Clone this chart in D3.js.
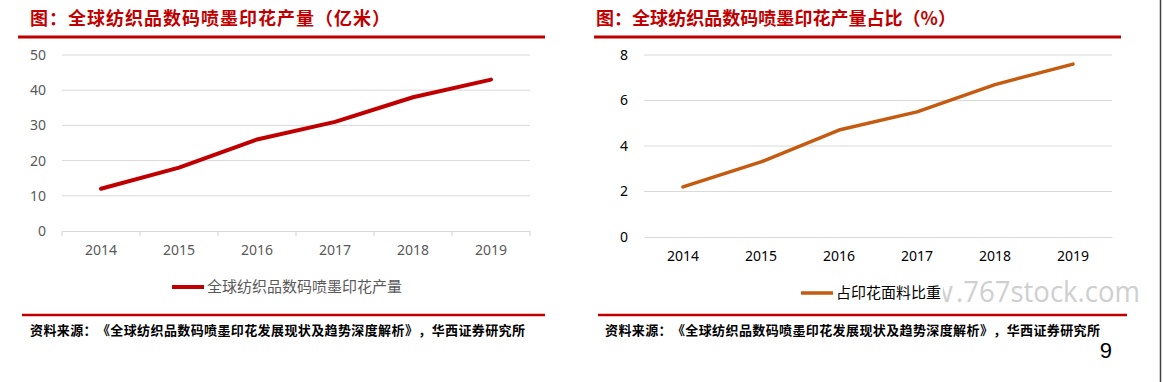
<!DOCTYPE html>
<html>
<head>
<meta charset="utf-8">
<script src="https://cdn.jsdelivr.net/npm/d3@7"></script>
<style>
  html, body { margin: 0; padding: 0; background: #fff; }
  svg { display: block; }
  .wide { text-spacing-trim: space-all; }
</style>
</head>
<body>
<svg id="page" width="1163" height="382"></svg>
<script>
// data
const years = ['2014', '2015', '2016', '2017', '2018', '2019'];
const outputValues = [12, 18, 26, 31, 38, 43];        // 亿米
const shareValues = [2.2, 3.3, 4.7, 5.5, 6.7, 7.6];   // %
const outputTicks = [0, 10, 20, 30, 40, 50];
const shareTicks = [0, 2, 4, 6, 8];

const leftTitle = '图：全球纺织品数码喷墨印花产量（亿米）';
const rightTitle = '图：全球纺织品数码喷墨印花产量占比（%）';
const leftLegend = '全球纺织品数码喷墨印花产量';
const rightLegend = '占印花面料比重';
const sourceText = '资料来源：《全球纺织品数码喷墨印花发展现状及趋势深度解析》，华西证券研究所';

const cjk = '"Noto Sans CJK SC", "Noto Sans", sans-serif';
const red = '#c00000';

const svg = d3.select('#page');

// watermark first so the legend box sits on top of it
const wm = svg.append('g')
  .attr('font-family', '"Open Sans", sans-serif')
  .attr('font-size', 30)
  .attr('fill', '#cfcfcf');
wm.append('text')
  .attr('x', 953).attr('y', 302)
  .attr('text-anchor', 'end')
  .text('www');
wm.append('text')
  .attr('x', 956).attr('y', 302)
  .attr('textLength', 184)
  .attr('lengthAdjust', 'spacingAndGlyphs')
  .text('.767stock.com');

function drawPanel(opt) {
  const g = svg.append('g');

  // title + rule
  g.append('text')
    .attr('class', 'wide')
    .attr('x', opt.titleX).attr('y', 25)
    .attr('font-family', cjk).attr('font-weight', 'bold')
    .attr('font-size', 18).attr('fill', red)
    .attr('textLength', opt.titleLen)
    .attr('lengthAdjust', 'spacing')
    .text(opt.title);
  g.append('line')
    .attr('x1', opt.ruleX[0]).attr('x2', opt.ruleX[1])
    .attr('y1', 37).attr('y2', 37)
    .attr('stroke', red).attr('stroke-width', 3);

  const x = d3.scaleBand().domain(years).range(opt.xRange);
  const y = d3.scaleLinear().domain([0, opt.max]).range(opt.yRange);

  // gridlines
  g.append('g')
    .selectAll('line')
    .data(opt.ticks.filter(d => d > 0))
    .join('line')
    .attr('x1', opt.xRange[0]).attr('x2', opt.xRange[1])
    .attr('y1', d => y(d)).attr('y2', d => y(d))
    .attr('stroke', '#d9d9d9').attr('stroke-width', 1);

  // y axis labels
  const yAxis = g.append('g')
    .attr('transform', `translate(${opt.xRange[0] - 16},0)`)
    .call(d3.axisLeft(y).tickValues(opt.ticks).tickSize(0).tickPadding(0));
  yAxis.select('.domain').remove();
  yAxis.selectAll('text')
    .attr('font-family', '"Noto Sans", sans-serif')
    .attr('font-size', 14)
    .attr('fill', opt.axisColor);

  // x axis
  const xAxis = g.append('g')
    .attr('transform', `translate(0,${opt.yRange[0]})`)
    .call(d3.axisBottom(x).tickSize(0).tickPadding(14));
  xAxis.select('.domain').attr('stroke', '#d9d9d9').attr('stroke-width', 1.2);
  xAxis.selectAll('text')
    .attr('font-family', '"Noto Sans", sans-serif')
    .attr('font-size', 14)
    .attr('fill', opt.axisColor);
  if (opt.tickMarks) {
    const edges = years.map(d => x(d)).concat([opt.xRange[1]]);
    xAxis.selectAll('.edge')
      .data(edges)
      .join('line')
      .attr('class', 'edge')
      .attr('x1', d => d).attr('x2', d => d)
      .attr('y1', 0).attr('y2', 5)
      .attr('stroke', '#d9d9d9').attr('stroke-width', 1.2);
  }

  // series line
  const line = d3.line()
    .x((d, i) => x(years[i]) + x.bandwidth() / 2)
    .y(d => y(d));
  g.append('path')
    .datum(opt.values)
    .attr('d', line)
    .attr('fill', 'none')
    .attr('stroke', opt.color)
    .attr('stroke-width', opt.lineWidth)
    .attr('stroke-linecap', 'round')
    .attr('stroke-linejoin', 'round');

  // legend
  const lg = g.append('g').attr('transform', `translate(${opt.legendX},${opt.legendY})`);
  lg.append('rect')
    .attr('x', -4).attr('y', -12)
    .attr('width', opt.legendBox).attr('height', 24)
    .attr('fill', '#fff');
  lg.append('line')
    .attr('x1', 0).attr('x2', 32).attr('y1', 0).attr('y2', 0)
    .attr('stroke', opt.color).attr('stroke-width', opt.lineWidth);
  lg.append('text')
    .attr('x', 35).attr('y', 5)
    .attr('font-family', cjk).attr('font-size', 15)
    .attr('fill', opt.legendColor)
    .text(opt.legend);

  // source rule + text
  g.append('line')
    .attr('x1', opt.srcRule[0]).attr('x2', opt.srcRule[1])
    .attr('y1', 315).attr('y2', 315)
    .attr('stroke', red).attr('stroke-width', 2.5);
  g.append('text')
    .attr('class', 'wide')
    .attr('x', opt.srcX).attr('y', 335)
    .attr('font-family', cjk).attr('font-weight', 'bold')
    .attr('font-size', 13).attr('fill', '#000')
    .attr('textLength', opt.srcLen)
    .attr('lengthAdjust', 'spacing')
    .text(sourceText);
}

drawPanel({
  title: leftTitle, titleX: 30, titleLen: 360, ruleX: [18, 545],
  xRange: [62, 530], yRange: [231, 55], max: 50, ticks: outputTicks,
  values: outputValues, color: '#c00000', lineWidth: 4,
  axisColor: '#595959', tickMarks: true,
  legend: leftLegend, legendX: 172, legendY: 287, legendBox: 238, legendColor: '#595959',
  srcRule: [22, 545], srcX: 30, srcLen: 495
});

drawPanel({
  title: rightTitle, titleX: 596, titleLen: 360, ruleX: [594, 1121],
  xRange: [644, 1112], yRange: [237, 55], max: 8, ticks: shareTicks,
  values: shareValues, color: '#c55a11', lineWidth: 3.5,
  axisColor: '#000', tickMarks: false,
  legend: rightLegend, legendX: 801, legendY: 293, legendBox: 146, legendColor: '#000',
  srcRule: [598, 1127], srcX: 605, srcLen: 495
});

// page number and right border
svg.append('text')
  .attr('x', 1112).attr('y', 358)
  .attr('text-anchor', 'end')
  .attr('font-family', '"Liberation Sans", sans-serif')
  .attr('font-size', 22).attr('fill', '#000')
  .text('9');
svg.append('line')
  .attr('x1', 1160.5).attr('x2', 1160.5).attr('y1', 0).attr('y2', 382)
  .attr('stroke', '#404040').attr('stroke-width', 1.5);
</script>
</body>
</html>
